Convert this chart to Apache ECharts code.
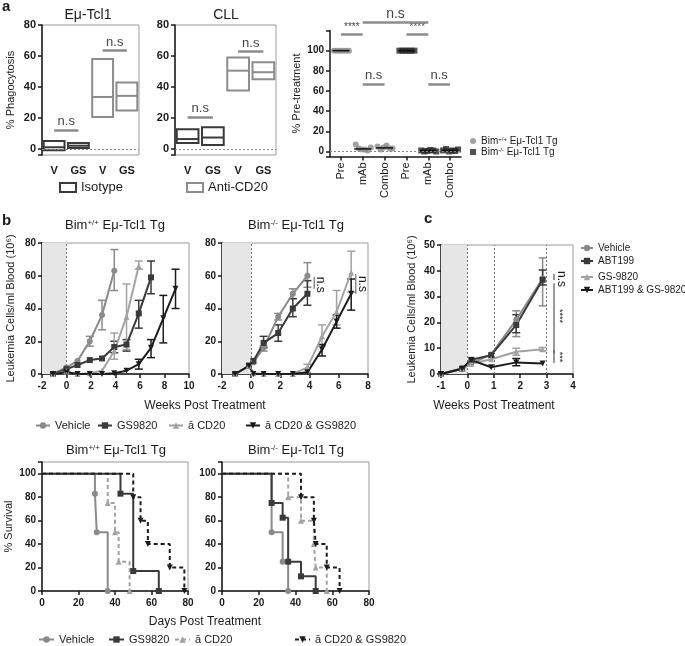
<!DOCTYPE html>
<html>
<head>
<meta charset="utf-8">
<script src="https://cdn.jsdelivr.net/npm/echarts@6/dist/echarts.min.js"></script>
<style>
  html, body { margin: 0; padding: 0; background: #fff; }
  #chart { width: 685px; height: 646px; }
</style>
</head>
<body>
<div id="chart"></div>
<script>
// ---- panel a: phagocytosis boxes [category, min, median, max]
var boxCats = ['V', 'GS', 'V', 'GS'];
var tclIsotype = [[0, -1, 1, 5], [1, 0.5, 2, 3.8]];
var tclAntiCD20 = [[2, 20.5, 33.5, 58], [3, 24.8, 34.2, 42.8]];
var cllIsotype = [[0, 3.7, 6.3, 12.7], [1, 2.4, 7.3, 14]];
var cllAntiCD20 = [[2, 37.6, 50.5, 59], [3, 45, 49.5, 56]];

// ---- panel a: % pre-treatment, points per category
var preCats = ['Pre', 'mAb', 'Combo', 'Pre', 'mAb', 'Combo'];
var bimWtPre = [100, 100, 100, 100, 100, 100];
var bimWtMab = [7, 3, 2, 2, 1, 4];
var bimWtCombo = [5, 2, 4, 6, 3, 3];
var bimKoPre = [100, 100, 100, 100, 100, 100];
var bimKoMab = [1, 0, 0.5, 1.5, 1, 0];
var bimKoCombo = [1, 2.5, 0, 1, 0.5, 2];
var jitter = [-7, -4, -1, 2, 5, 8];

// ---- panel b: leukemia cells [week, value], error bars [week, low, high]
var bWtVehicle = [[-1.1, 0], [0, 4], [0.9, 8], [1.9, 20], [2.9, 36], [3.9, 63]];
var bWtVehicleErr = [[1.9, 17, 23], [2.9, 27, 45], [3.9, 51, 76]];
var bWtGS = [[-1.1, 0], [0, 3], [0.9, 5.5], [1.9, 8.5], [2.9, 9.5], [3.9, 16.5], [4.9, 18], [5.9, 37], [6.9, 59]];
var bWtGSErr = [[3.9, 13, 20], [4.9, 14, 21], [5.9, 28, 45], [6.9, 49, 69]];
var bWtCD20 = [[-1.1, 0], [0, 1.5], [0.9, 0], [1.9, 0.5], [2.9, 2], [3.9, 14], [4.9, 35], [5.9, 66]];
var bWtCD20Err = [[3.9, 9, 25], [4.9, 15, 55], [5.9, 64, 69]];
var bWtCombo = [[-1.1, 0], [0, 1], [0.9, 0], [1.9, 0], [2.9, 0], [3.9, 0.5], [4.9, 2], [5.9, 6], [6.9, 16], [7.9, 34], [8.9, 52]];
var bWtComboErr = [[5.9, 3, 9], [6.9, 10, 21], [7.9, 19, 48], [8.9, 40, 64]];

var bKoVehicle = [[-1.1, 0], [-0.15, 5], [0.15, 7], [0.85, 16], [1.85, 35], [2.85, 49], [3.85, 60]];
var bKoVehicleErr = [[0.85, 14, 17], [1.85, 33, 37], [2.85, 46, 52], [3.85, 53, 68]];
var bKoGS = [[-1.1, 0], [-0.15, 5], [0.15, 8], [0.85, 19], [1.85, 25], [2.85, 40], [3.85, 49]];
var bKoGSErr = [[0.85, 16, 23], [1.85, 20, 30], [2.85, 35, 46], [3.85, 42, 57]];
var bKoCD20 = [[-1.1, 0], [-0.15, 5], [0.15, 0.5], [0.85, 0], [1.85, 0], [2.85, 0], [3.85, 4], [4.85, 23], [5.85, 38], [6.85, 62]];
var bKoCD20Err = [[3.85, 1, 6], [4.85, 17, 30], [5.85, 30, 51], [6.85, 50, 75]];
var bKoCombo = [[-1.1, 0], [-0.15, 5], [0.15, 0], [0.85, 0], [1.85, 0], [2.85, 0], [3.85, 1], [4.85, 15], [5.85, 32], [6.85, 49]];
var bKoComboErr = [[4.85, 11, 18], [5.85, 28, 36], [6.85, 39, 58]];

// ---- panel c
var cVehicle = [[-1, 0], [-0.2, 2.2], [0.15, 4], [0.9, 7.6], [1.85, 21], [2.85, 37]];
var cVehicleErr = [[1.85, 14.5, 24.5], [2.85, 26.4, 45]];
var cABT = [[-1, 0], [-0.2, 2], [0.15, 5.5], [0.9, 7.3], [1.85, 19], [2.85, 36.5]];
var cABTErr = [[1.85, 16, 23], [2.85, 34.5, 40.3]];
var cGS = [[-1, 0], [-0.2, 2], [0.15, 4], [0.9, 5.7], [1.85, 8.6], [2.85, 9.6]];
var cGSErr = [[1.85, 7.2, 10], [2.85, 9, 10.3]];
var cCombo = [[-1, 0], [-0.2, 2], [0.15, 5.4], [0.9, 2.6], [1.85, 4.5], [2.85, 4.1]];
var cComboErr = [[1.85, 3.2, 6]];

// ---- survival [day, % survival]
var sWtVehicle = [[0, 100], [29, 83], [30, 50], [36, 0]];
var sWtGS = [[0, 100], [43, 83], [50, 17], [64, 0]];
var sWtCD20 = [[0, 100], [36, 75], [40, 50], [42, 25], [48, 0]];
var sWtCombo = [[0, 100], [50, 80], [54, 60], [58, 40], [70, 20], [78, 0]];
var sKoVehicle = [[0, 100], [27, 50], [33, 25], [36, 0]];
var sKoGS = [[0, 100], [27, 75], [33, 62.5], [36, 25], [43, 12.5], [51, 0]];
var sKoCD20 = [[0, 100], [36, 80], [43, 60], [50, 40], [51, 20], [57, 0]];
var sKoCombo = [[0, 100], [43, 80], [50, 60], [51, 40], [57, 20], [64, 0]];

var FONT = '"Liberation Sans", Arial, sans-serif';
var INK = '#1a1a1a', FRAME = '#9a9a9a', NS = '#8c8c8c';

var ST = {
  vehicle: { color: '#8a8a8a', symbol: 'circle' },
  gs: { color: '#3a3a3a', symbol: 'rect' },
  cd20: { color: '#a2a2a2', symbol: 'triangle' },
  combo: { color: '#1c1c1c', symbol: 'path://M0,0L10,0L5,9Z' }
};

var chart = echarts.init(document.getElementById('chart'));

function grid(left, top, width, height, framed) {
  return { left: left, top: top, width: width, height: height, containLabel: false,
    outerBoundsMode: 'none', show: !!framed, borderColor: FRAME, borderWidth: 1, backgroundColor: 'transparent' };
}

function valAxis(gi, min, max, opt) {
  opt = opt || {};
  var ax = {
    type: 'value', gridIndex: gi, min: min, max: max, scale: true,
    axisLine: { show: opt.line !== false, onZero: false, lineStyle: { color: INK, width: 1.5 } },
    axisTick: { show: opt.line !== false, length: 4, inside: false, lineStyle: { color: INK, width: 1.5 } },
    splitLine: { show: false },
    axisLabel: { color: INK, fontFamily: FONT, fontWeight: 'bold', fontSize: opt.fs || 10, margin: opt.margin || 6,
      formatter: opt.fmt || function (v) { return v; } }
  };
  if (opt.interval) ax.interval = opt.interval;
  if (opt.splitNumber) ax.splitNumber = opt.splitNumber;
  if (opt.name) {
    ax.name = opt.name; ax.nameLocation = 'middle'; ax.nameGap = opt.nameGap;
    ax.nameTextStyle = { fontFamily: FONT, fontSize: 11, color: INK };
  }
  return ax;
}

function catAxis(gi, cats, opt) {
  opt = opt || {};
  return {
    type: 'category', gridIndex: gi, data: cats,
    axisLine: { show: !!opt.line, onZero: false, lineStyle: { color: INK, width: 1.5 } },
    axisTick: { show: !!opt.line, length: 4, alignWithLabel: true, lineStyle: { color: INK, width: 1.5 } },
    axisLabel: { color: INK, fontFamily: FONT, fontWeight: opt.bold === false ? 'normal' : 'bold',
      fontSize: opt.fs || 11, margin: opt.margin || 8, rotate: opt.rotate || 0, interval: 0 },
    splitLine: { show: false }
  };
}

function boxRender(params, api) {
  var c = api.value(0);
  var lo = api.coord([c, api.value(1)]);
  var md = api.coord([c, api.value(2)]);
  var hi = api.coord([c, api.value(3)]);
  var w = api.size([1, 0])[0] * 0.86;
  var col = api.visual('color');
  return { type: 'group', children: [
    { type: 'rect', shape: { x: hi[0] - w / 2, y: hi[1], width: w, height: lo[1] - hi[1] },
      style: { fill: 'none', stroke: col, lineWidth: 2 } },
    { type: 'line', shape: { x1: md[0] - w / 2, y1: md[1], x2: md[0] + w / 2, y2: md[1] },
      style: { stroke: col, lineWidth: 2 } }
  ] };
}

function errRender(params, api) {
  var x = api.value(0);
  var hi = api.coord([x, api.value(2)]);
  var lo = api.coord([x, api.value(1)]);
  var w = 4;
  var s = { stroke: api.visual('color'), lineWidth: 1.5 };
  return { type: 'group', children: [
    { type: 'line', shape: { x1: hi[0], y1: hi[1], x2: lo[0], y2: lo[1] }, style: s },
    { type: 'line', shape: { x1: hi[0] - w, y1: hi[1], x2: hi[0] + w, y2: hi[1] }, style: s },
    { type: 'line', shape: { x1: lo[0] - w, y1: lo[1], x2: lo[0] + w, y2: lo[1] }, style: s }
  ] };
}

function medianRender(params, api) {
  var p = api.coord([api.value(0), api.value(1)]);
  var w = api.size([1, 0])[0] * 0.78;
  return { type: 'line', shape: { x1: p[0] - w / 2, y1: p[1], x2: p[0] + w / 2, y2: p[1] },
    style: { stroke: '#111', lineWidth: 1.5 } };
}

function nsLine(from, to, y, text, fs) {
  return [{ coord: [from, y], label: { show: true, formatter: text, position: 'middle', distance: 2,
      color: '#444', fontFamily: FONT, fontSize: fs || 13 } }, { coord: [to, y] }];
}

function boxSeries(name, data, gi, color, marks) {
  var s = { name: name, type: 'custom', xAxisIndex: gi, yAxisIndex: gi, data: data,
    renderItem: boxRender, itemStyle: { color: color }, encode: { x: 0, y: [1, 2, 3] }, clip: false, z: 3 };
  if (marks) {
    s.markLine = { silent: true, symbol: 'none', lineStyle: { color: NS, width: 2.5, type: 'solid' }, data: marks };
  }
  return s;
}

function lineSeries(name, data, gi, st, extra) {
  var s = { name: name, type: 'line', xAxisIndex: gi, yAxisIndex: gi, data: data,
    symbol: st.symbol, symbolSize: 6, color: st.color, showSymbol: true,
    lineStyle: { color: st.color, width: 2 }, itemStyle: { color: st.color }, z: 4 };
  if (extra) for (var k in extra) s[k] = extra[k];
  return s;
}

function errSeries(data, gi, st) {
  return { type: 'custom', xAxisIndex: gi, yAxisIndex: gi, data: data, renderItem: errRender,
    itemStyle: { color: st.color }, encode: { x: 0, y: [1, 2] }, z: 3, silent: true };
}

function survSeries(name, data, gi, st, dashed) {
  var pts = data.map(function (d, i) { return i === 0 ? { value: d, symbol: 'none' } : d; });
  return lineSeries(name, pts, gi, st, {
    step: 'end',
    lineStyle: { color: st.color, width: 2, type: dashed ? [4, 3] : 'solid' }
  });
}

function backdrop(gi, start, lines) {
  return { type: 'line', xAxisIndex: gi, yAxisIndex: gi, data: [], z: 1, silent: true,
    markArea: { silent: true, itemStyle: { color: '#e6e6e6' }, data: [[{ xAxis: start }, { xAxis: 0 }]] },
    markLine: { silent: true, symbol: 'none', label: { show: false },
      lineStyle: { color: '#777', width: 1, type: [2, 2] },
      data: lines.map(function (x) { return { xAxis: x }; }) } };
}

function zeroLine(gi) {
  return { type: 'line', xAxisIndex: gi, yAxisIndex: gi, data: [], z: 1, silent: true,
    markLine: { silent: true, symbol: 'none', label: { show: false },
      lineStyle: { color: '#888', width: 1, type: [2, 2] }, data: [{ yAxis: 0 }] } };
}

function scatterPoints(vals, cat) {
  return vals.map(function (v, i) { return { value: [cat, v], symbolOffset: [jitter[i], 0] }; });
}

function median(vals) {
  var s = vals.slice().sort(function (a, b) { return a - b; });
  var n = s.length;
  return n % 2 ? s[(n - 1) / 2] : (s[n / 2 - 1] + s[n / 2]) / 2;
}

function strip(name) { return name.replace(/^[a-z]+:/, ''); }

function legendAt(name, left, top, opt) {
  opt = opt || {};
  var l = { show: true, data: [opt.item || name], left: left, top: top, orient: 'horizontal', padding: 0,
    itemWidth: opt.w || 14, itemHeight: opt.h || 8, itemGap: 0, selectedMode: false,
    formatter: opt.fmt || strip,
    textStyle: { fontFamily: FONT, fontSize: opt.fs || 11, color: INK, rich: opt.rich } };
  return l;
}

var supRich = {
  n: { fontFamily: FONT, fontSize: 10, color: INK },
  s: { fontFamily: FONT, fontSize: 6, color: INK, verticalAlign: 'top' }
};

var wtMed = [median(bimWtPre), median(bimWtMab), median(bimWtCombo)];
var koMed = [median(bimKoPre), median(bimKoMab), median(bimKoCombo)];

var option = {
  animation: false,
  backgroundColor: '#fff',
  textStyle: { fontFamily: FONT },
  grid: [
    grid(42, 25, 97, 130, true),     // 0 a Eu-Tcl1
    grid(175, 25, 101, 130, true),   // 1 a CLL
    grid(330, 30.5, 131, 126, false),// 2 a pre-treatment
    grid(42, 243, 147, 131, true),   // 3 b Bim+/+
    grid(222, 243, 146, 131, true),  // 4 b Bim-/-
    grid(441, 245, 132, 129, true),  // 5 c
    grid(42, 462, 146, 129, true),   // 6 survival Bim+/+
    grid(222, 462, 147, 129, true)   // 7 survival Bim-/-
  ],
  xAxis: [
    catAxis(0, boxCats, { margin: 10 }),
    catAxis(1, boxCats, { margin: 10 }),
    catAxis(2, preCats, { line: true, rotate: 90, bold: false, fs: 11, margin: 6 }),
    valAxis(3, -2, 10, { interval: 2, margin: 7 }),
    valAxis(4, -2, 8, { interval: 2, margin: 7 }),
    valAxis(5, -1, 4, { interval: 1, margin: 7 }),
    valAxis(6, 0, 80, { interval: 20, margin: 7 }),
    valAxis(7, 0, 80, { interval: 20, margin: 7 })
  ],
  yAxis: [
    valAxis(0, -4, 80, { splitNumber: 4, fs: 11, fmt: function (v) { return v < 0 ? '' : v; },
      name: '% Phagocytosis', nameGap: 26 }),
    valAxis(1, -4, 80, { splitNumber: 4, fs: 11, fmt: function (v) { return v < 0 ? '' : v; } }),
    valAxis(2, -5, 120, { splitNumber: 6, fs: 10, fmt: function (v) { return (v < 0 || v > 100) ? '' : v; },
      name: '% Pre-treatment', nameGap: 28 }),
    valAxis(3, 0, 80, { interval: 20, name: 'Leukemia Cells/ml Blood (10⁶)', nameGap: 26 }),
    valAxis(4, 0, 80, { interval: 20 }),
    valAxis(5, 0, 50, { interval: 10, name: 'Leukemia Cells/ml Blood (10⁶)', nameGap: 24 }),
    valAxis(6, 0, 110, { interval: 20, fmt: function (v) { return v > 100 ? '' : v; },
      name: '% Survival', nameGap: 28 }),
    valAxis(7, 0, 110, { interval: 20, fmt: function (v) { return v > 100 ? '' : v; } })
  ],
  legend: [
    legendAt('Isotype', 59, 181, { w: 16, h: 9, fs: 13,
      item: { name: 'Isotype', icon: 'rect', itemStyle: { color: '#fff', borderColor: '#3a3a3a', borderWidth: 2 } } }),
    legendAt('Anti-CD20', 186, 181, { w: 16, h: 9, fs: 13,
      item: { name: 'Anti-CD20', icon: 'rect', itemStyle: { color: '#fff', borderColor: '#8c8c8c', borderWidth: 2 } } }),
    legendAt('wt:bim', 470, 136, { w: 6, h: 6, fs: 10, rich: supRich,
      fmt: function () { return '{n|Bim}{s|+/+}{n| Eμ-Tcl1 Tg}'; } }),
    legendAt('ko:bim', 470, 147, { w: 6, h: 6, fs: 10, rich: supRich,
      fmt: function () { return '{n|Bim}{s|-/-}{n| Eμ-Tcl1 Tg}'; } }),
    legendAt('Vehicle', 35, 420),
    legendAt('GS9820', 97, 420),
    legendAt('ā CD20', 168, 420),
    legendAt('ā CD20 & GS9820', 245, 420),
    legendAt('c:Vehicle', 580, 243, { w: 12, fs: 10 }),
    legendAt('c:ABT199', 580, 256, { w: 12, fs: 10 }),
    legendAt('c:GS-9820', 580, 272, { w: 12, fs: 10 }),
    legendAt('c:ABT199 & GS-9820', 580, 285, { w: 12, fs: 10 }),
    legendAt('s:Vehicle', 38, 634, { w: 15 }),
    legendAt('s:GS9820', 108, 634, { w: 15 }),
    legendAt('s:ā CD20', 174, 634, { w: 15 }),
    legendAt('s:ā CD20 & GS9820', 294, 634, { w: 15 })
  ],
  series: [
    // panel a boxes
    zeroLine(0), zeroLine(1), zeroLine(2),
    boxSeries('Isotype', tclIsotype, 0, '#3a3a3a', [nsLine(0, 1, 12.3, 'n.s')]),
    boxSeries('Anti-CD20', tclAntiCD20, 0, '#8c8c8c', [nsLine(2, 3, 63.4, 'n.s')]),
    boxSeries('Isotype', cllIsotype, 1, '#3a3a3a', [nsLine(0, 1, 20.4, 'n.s')]),
    boxSeries('Anti-CD20', cllAntiCD20, 1, '#8c8c8c', [nsLine(2, 3, 62.8, 'n.s')]),
    // panel a pre-treatment
    { name: 'wt:bim', type: 'scatter', xAxisIndex: 2, yAxisIndex: 2, symbol: 'circle', symbolSize: 6,
      itemStyle: { color: '#8a8a8a' }, z: 3,
      data: scatterPoints(bimWtPre, 0).concat(scatterPoints(bimWtMab, 1), scatterPoints(bimWtCombo, 2)),
      markLine: { silent: true, symbol: 'none', lineStyle: { color: NS, width: 2.5, type: 'solid' },
        data: [nsLine(0, 1, 116.5, '****', 10), nsLine(1, 2, 67, 'n.s')] } },
    { name: 'ko:bim', type: 'scatter', xAxisIndex: 2, yAxisIndex: 2, symbol: 'rect', symbolSize: 6,
      itemStyle: { color: '#262626' }, z: 3,
      data: scatterPoints(bimKoPre, 3).concat(scatterPoints(bimKoMab, 4), scatterPoints(bimKoCombo, 5)),
      markLine: { silent: true, symbol: 'none', lineStyle: { color: NS, width: 2.5, type: 'solid' },
        data: [nsLine(3, 4, 116.5, '****', 10), nsLine(4, 5, 67, 'n.s')] } },
    { type: 'custom', xAxisIndex: 2, yAxisIndex: 2, renderItem: medianRender, z: 4, silent: true,
      encode: { x: 0, y: 1 },
      data: [[0, wtMed[0]], [1, wtMed[1]], [2, wtMed[2]], [3, koMed[0]], [4, koMed[1]], [5, koMed[2]]] },
    // panel b
    backdrop(3, -2, [0]), backdrop(4, -2, [0]),
    errSeries(bWtVehicleErr, 3, ST.vehicle), errSeries(bWtGSErr, 3, ST.gs),
    errSeries(bWtCD20Err, 3, ST.cd20), errSeries(bWtComboErr, 3, ST.combo),
    lineSeries('Vehicle', bWtVehicle, 3, ST.vehicle),
    lineSeries('GS9820', bWtGS, 3, ST.gs),
    lineSeries('ā CD20', bWtCD20, 3, ST.cd20),
    lineSeries('ā CD20 & GS9820', bWtCombo, 3, ST.combo),
    errSeries(bKoVehicleErr, 4, ST.vehicle), errSeries(bKoGSErr, 4, ST.gs),
    errSeries(bKoCD20Err, 4, ST.cd20), errSeries(bKoComboErr, 4, ST.combo),
    lineSeries('Vehicle', bKoVehicle, 4, ST.vehicle),
    lineSeries('GS9820', bKoGS, 4, ST.gs),
    lineSeries('ā CD20', bKoCD20, 4, ST.cd20),
    lineSeries('ā CD20 & GS9820', bKoCombo, 4, ST.combo),
    // panel c
    backdrop(5, -1, [0, 1, 3]),
    errSeries(cVehicleErr, 5, ST.vehicle), errSeries(cABTErr, 5, ST.gs),
    errSeries(cGSErr, 5, ST.cd20), errSeries(cComboErr, 5, ST.combo),
    lineSeries('c:Vehicle', cVehicle, 5, ST.vehicle),
    lineSeries('c:ABT199', cABT, 5, ST.gs),
    lineSeries('c:GS-9820', cGS, 5, ST.cd20),
    lineSeries('c:ABT199 & GS-9820', cCombo, 5, ST.combo),
    // survival
    survSeries('s:Vehicle', sWtVehicle, 6, ST.vehicle, false),
    survSeries('s:GS9820', sWtGS, 6, ST.gs, false),
    survSeries('s:ā CD20', sWtCD20, 6, ST.cd20, true),
    survSeries('s:ā CD20 & GS9820', sWtCombo, 6, ST.combo, true),
    survSeries('s:Vehicle', sKoVehicle, 7, ST.vehicle, false),
    survSeries('s:GS9820', sKoGS, 7, ST.gs, false),
    survSeries('s:ā CD20', sKoCD20, 7, ST.cd20, true),
    survSeries('s:ā CD20 & GS9820', sKoCombo, 7, ST.combo, true)
  ]
};

chart.setOption(option);

// annotations placed from data coordinates
function px(gi, pt) { return chart.convertToPixel({ gridIndex: gi }, pt); }
function txt(x, y, text, o) {
  o = o || {};
  return { type: 'text', x: x, y: y, rotation: o.rot || 0, z: 10, silent: true,
    style: { text: text, fill: o.color || INK, font: (o.bold ? 'bold ' : '') + (o.fs || 12) + 'px ' + FONT,
      align: o.align || 'center', verticalAlign: 'middle', rich: o.rich } };
}
function seg(a, b, o) {
  o = o || {};
  return { type: 'line', z: 10, silent: true, shape: { x1: a[0], y1: a[1], x2: b[0], y2: b[1] },
    style: { stroke: o.color || NS, lineWidth: o.w || 2 } };
}
var titleRich = {
  n: { fontFamily: FONT, fontSize: 13, color: INK },
  s: { fontFamily: FONT, fontSize: 8, color: INK, verticalAlign: 'top' }
};
var ROT = -Math.PI / 2;
var g = [];
g.push(txt(2, 7, 'a', { bold: true, fs: 15, align: 'left' }));
g.push(txt(2, 221, 'b', { bold: true, fs: 15, align: 'left' }));
g.push(txt(424, 219, 'c', { bold: true, fs: 15, align: 'left' }));
g.push(txt(88, 15, 'Eμ-Tcl1', { fs: 14 }));
g.push(txt(226, 15, 'CLL', { fs: 14 }));
g.push(txt(115, 225, '{n|Bim}{s|+/+}{n| Eμ-Tcl1 Tg}', { rich: titleRich }));
g.push(txt(296, 225, '{n|Bim}{s|-/-}{n| Eμ-Tcl1 Tg}', { rich: titleRich }));
g.push(txt(116, 450, '{n|Bim}{s|+/+}{n| Eμ-Tcl1 Tg}', { rich: titleRich }));
g.push(txt(296, 450, '{n|Bim}{s|-/-}{n| Eμ-Tcl1 Tg}', { rich: titleRich }));
g.push(txt(205, 406, 'Weeks Post Treatment', { fs: 12 }));
g.push(txt(494, 406, 'Weeks Post Treatment', { fs: 12 }));
g.push(txt(205, 622, 'Days Post Treatment', { fs: 12 }));

// a: top n.s spanning both genotypes
var t1 = px(2, [1, 128]), t2 = px(2, [4, 128]);
g.push(seg(t1, t2, { w: 2.5 }));
g.push(txt((t1[0] + t2[0]) / 2, t1[1] - 8, 'n.s', { fs: 14, color: '#444' }));

// b: rotated n.s marks
var b1a = px(4, [4.32, 59.4]), b1b = px(4, [4.32, 52]);
g.push(seg(b1a, b1b, { w: 1.5 }));
g.push(txt(b1a[0] + 6, (b1a[1] + b1b[1]) / 2 + 2, 'n.s', { rot: ROT, fs: 12 }));
var b2a = px(4, [7.16, 61]), b2b = px(4, [7.16, 49]);
g.push(seg(b2a, b2b, { w: 1.5 }));
g.push(txt(b2a[0] + 7, (b2a[1] + b2b[1]) / 2, 'n.s', { rot: ROT, fs: 12 }));

// c: significance marks
var c1 = px(5, [3.28, 38.8]), c2 = px(5, [3.28, 36.4]);
g.push(seg(c1, c2, { w: 1.2, color: '#555' }));
g.push(txt(c1[0] + 7, px(5, [3.28, 36.8])[1], 'n.s', { rot: ROT, fs: 12 }));
var c3 = px(5, [3.28, 35.2]), c4 = px(5, [3.28, 8]);
g.push(seg(c3, c4, { w: 1.2, color: '#555' }));
g.push(txt(c3[0] + 5, px(5, [3.28, 22.5])[1], '****', { rot: ROT, fs: 9 }));
var c5 = px(5, [3.28, 9.3]), c6 = px(5, [3.28, 4.3]);
g.push(seg(c5, c6, { w: 1.2, color: '#555' }));
g.push(txt(c5[0] + 5, px(5, [3.28, 6.6])[1], '***', { rot: ROT, fs: 9 }));

chart.setOption({ graphic: g });
</script>
</body>
</html>
